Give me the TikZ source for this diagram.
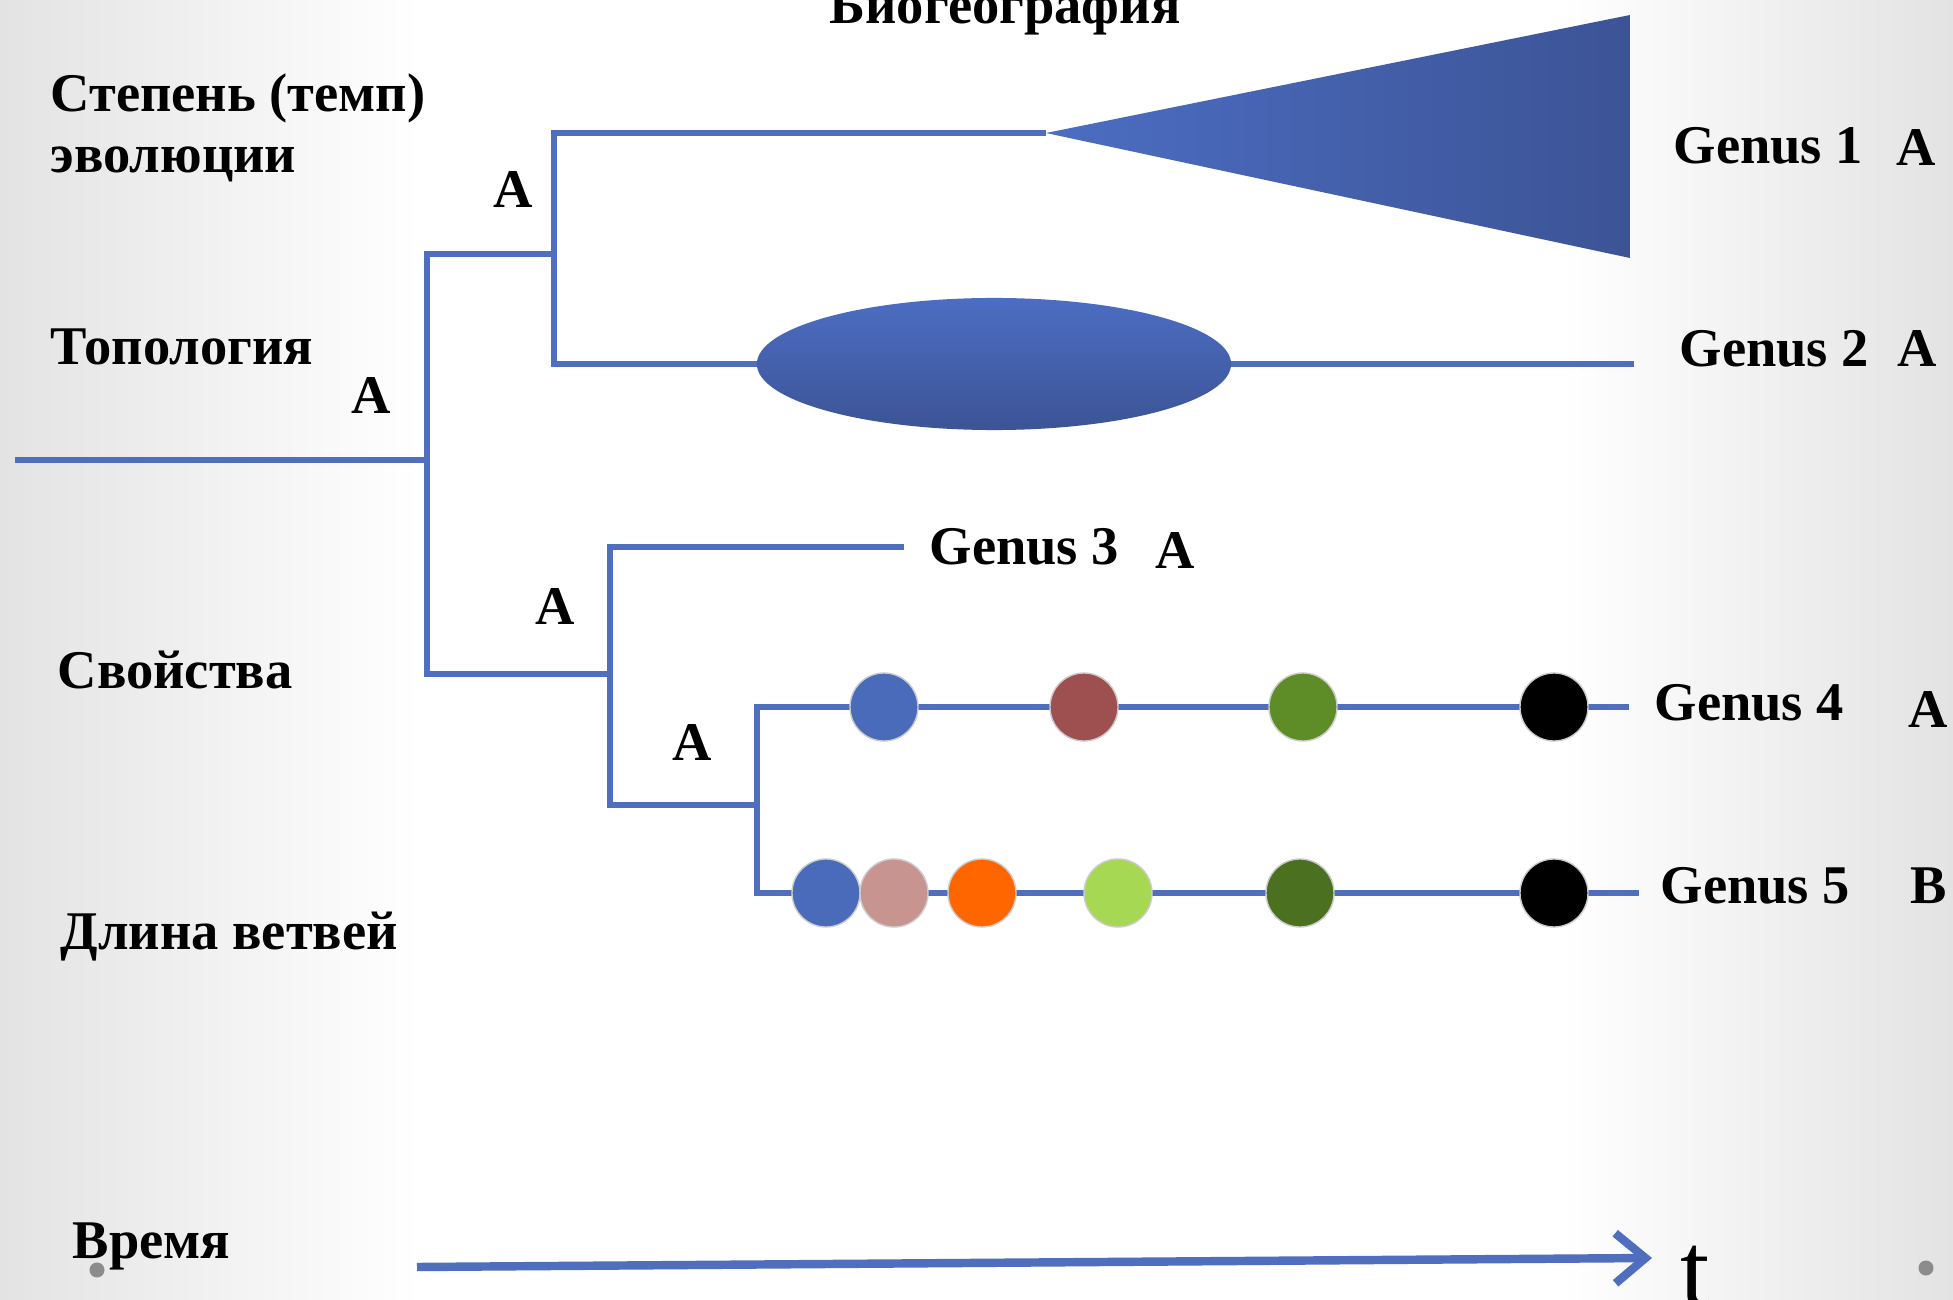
\documentclass[tikz,border=0pt]{standalone}
\usepackage{fontspec}
\setmainfont{Liberation Serif}
\usetikzlibrary{arrows.meta}
\definecolor{treeblue}{HTML}{4F6EBD}
\definecolor{cladelight}{HTML}{4C6DC2}
\definecolor{cladedark}{HTML}{3C5496}
\definecolor{dotblue}{HTML}{4A6ABA}
\definecolor{dotred}{HTML}{9E5050}
\definecolor{dotolive}{HTML}{5E8C26}
\definecolor{dotpink}{HTML}{C89490}
\definecolor{dotorange}{HTML}{FF6600}
\definecolor{dotlime}{HTML}{A6D854}
\definecolor{dotdark}{HTML}{4A7020}

\begin{document}
\begin{tikzpicture}[x=0.01cm,y=-0.01cm,
  branch/.style={draw=treeblue, line width=1.9pt},
  lbl/.style={font=\fontsize{15.5}{18}\selectfont\bfseries, inner sep=0pt},
  dot/.style={circle, minimum size=0.68cm, inner sep=0pt, draw=black!20, line width=0.4pt}]
\useasboundingbox (0,0) rectangle (1953,1300);
\fill[white] (0,0) rectangle (1953,1300);
\shade[left color=black!11, right color=white] (0,0) rectangle (420,1300);
\shade[left color=white, right color=black!11] (1560,0) rectangle (1953,1300);

% tree
\coordinate (root) at (15,460);
\coordinate (n0) at (427,460);
\coordinate (n1) at (554,254);
\coordinate (n2) at (610,674);
\coordinate (n3) at (757,805);
\coordinate (e1) at (1046,133);
\coordinate (e2) at (1634,364);
\coordinate (e3) at (904,547);
\coordinate (e4) at (1629,707);
\coordinate (e5) at (1639,893);
\draw[branch] (root) -- (n0);
\draw[branch] (n0) |- (n1);
\draw[branch] (n0) |- (n2);
\draw[branch] (n1) |- (e1);
\draw[branch] (n1) |- (e2);
\draw[branch] (n2) |- (e3);
\draw[branch] (n2) |- (n3);
\draw[branch] (n3) |- (e4);
\draw[branch] (n3) |- (e5);

\shade[left color=cladelight, right color=cladedark] (e1) -- (1630,15) -- (1630,258) -- cycle;
\shade[top color=cladelight, bottom color=cladedark] (994,364) ellipse [x radius=2.37cm, y radius=0.66cm];

\foreach \x/\c [count=\i] in {884/dotblue, 1084/dotred, 1303/dotolive, 1554/black}
  \node[dot, fill=\c] (g4d\i) at (\x,707) {};
\foreach \x/\c [count=\i] in {826/dotblue, 894/dotpink, 982/dotorange, 1118/dotlime, 1300/dotdark, 1554/black}
  \node[dot, fill=\c] (g5d\i) at (\x,893) {};

% left column
\node[lbl, anchor=base west] (rate) at (50,112) {Степень (темп)};
\node[lbl, anchor=base west] (rate2) at (50,173) {эволюции};
\node[lbl, anchor=base west] (topo) at (50,365) {Топология};
\node[lbl, anchor=base west] (traits) at (57,689) {Свойства};
\node[lbl, anchor=base west] (blen) at (60,949) {Длина ветвей};
\node[lbl, anchor=base west] (time) at (72,1258) {Время};
\node[lbl, anchor=base] (biogeo) at (1005,24) {Биогеография};

% states at nodes
\node[lbl, anchor=base] (s1) at (513,208) {A};
\node[lbl, anchor=base] (s0) at (371,413) {A};
\node[lbl, anchor=base] (s2) at (555,625) {A};
\node[lbl, anchor=base] (s3) at (692,761) {A};

% tips
\node[lbl, anchor=base west] (gen1) at (1673,164) {Genus 1};
\node[lbl, anchor=base] (st1) at (1916,166) {A};
\node[lbl, anchor=base west] (gen2) at (1679,367) {Genus 2};
\node[lbl, anchor=base] (st2) at (1917,367) {A};
\node[lbl, anchor=base west] (gen3) at (929,564) {Genus 3};
\node[lbl, anchor=base] (st3) at (1175,568) {A};
\node[lbl, anchor=base west] (gen4) at (1654,720) {Genus 4};
\node[lbl, anchor=base] (st4) at (1928,727) {A};
\node[lbl, anchor=base west] (gen5) at (1660,903) {Genus 5};
\node[lbl, anchor=base] (st5) at (1929,903) {B};

% time axis
\coordinate (t0) at (417,1267);
\coordinate (t1) at (1652,1258);
\draw[treeblue, line width=2.4pt, -{Straight Barb[length=3mm, width=5mm]}] (t0) -- (t1);
\node[font=\fontsize{30}{30}\selectfont, anchor=base west, inner sep=0pt] (tlbl) at (1680,1305) {t};
\node[circle, fill=black!45, minimum size=0.15cm, inner sep=0pt] (dl) at (97,1270) {};
\node[circle, fill=black!45, minimum size=0.15cm, inner sep=0pt] (dr) at (1926,1268) {};
\end{tikzpicture}
\end{document}
